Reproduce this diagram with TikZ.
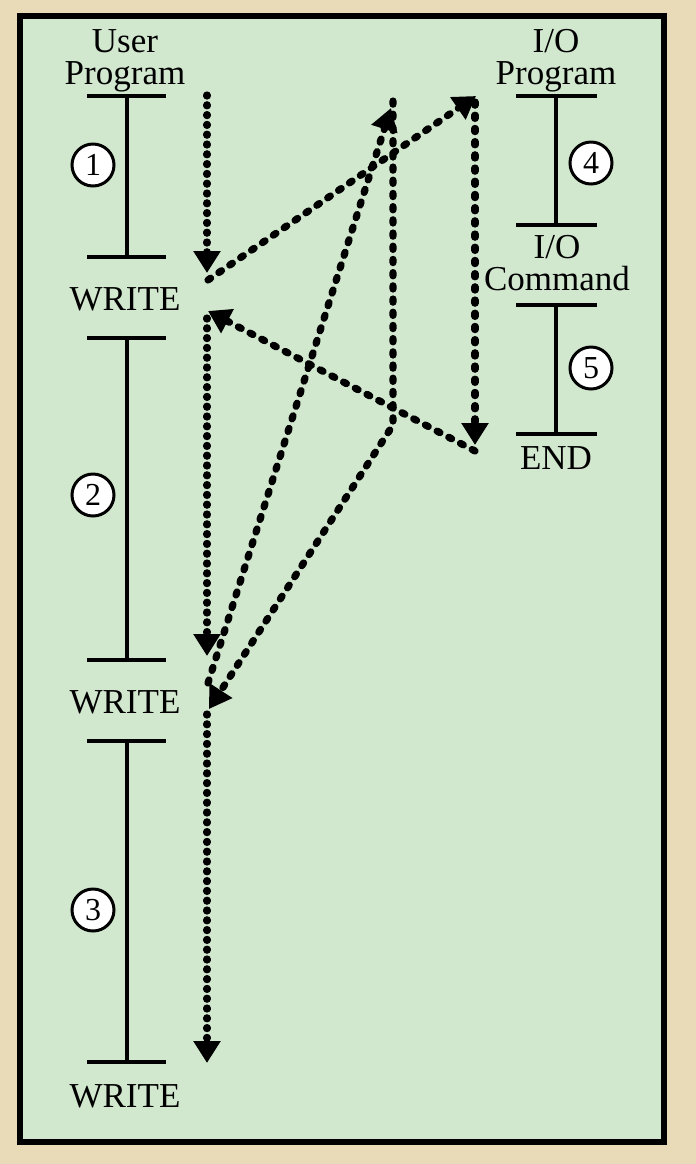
\documentclass[tikz,border=0pt]{standalone}
\usepackage{fontspec}
\setmainfont{Liberation Serif}
\usetikzlibrary{arrows.meta}

\definecolor{parch}{RGB}{233,219,184}
\definecolor{boxgreen}{RGB}{209,232,207}

\begin{document}
\begin{tikzpicture}[x=0.5pt,y=-0.5pt]

\tikzset{txt/.style={font=\fontsize{17.5}{16}\selectfont,inner sep=0pt,align=center},
stepnum/.style={draw=black,fill=white,line width=1.5pt,shape=circle,inner sep=0pt,minimum size=21pt,font=\fontsize{16}{16}\selectfont},
bar/.style={line width=1.6pt},
seqflow/.style={-{Triangle[length=11pt,width=13pt]},line width=3.6pt,line cap=round,dash pattern=on 0.5pt off 4.4pt},
jumpflow/.style={-{Triangle[length=11pt,width=13pt]},line width=3.6pt,line cap=round,line join=round,dash pattern=on 1.6pt off 5pt}}

% Background and frame
\fill[parch] (0,0) rectangle (696,1164);
\filldraw[fill=boxgreen,draw=black,line width=3pt] (20,15.5) rectangle (664,1142);

% User program
\node (user) [txt] at (125,61) {User\\Program};
\draw[bar] (87,96) -- (166,96);
\draw[bar] (127,96) -- (127,257);
\draw[bar] (87,257) -- (166,257);
\node (w1) [txt] at (125,299) {WRITE};
\draw[bar] (87,338) -- (166,338);
\draw[bar] (127,338) -- (127,660);
\draw[bar] (87,660) -- (166,660);
\node (w2) [txt] at (125,702) {WRITE};
\draw[bar] (87,741) -- (166,741);
\draw[bar] (127,741) -- (127,1062);
\draw[bar] (87,1062) -- (166,1062);
\node (w3) [txt] at (125,1096) {WRITE};

% I/O program
\node (io) [txt] at (556,61) {I/O\\Program};
\draw[bar] (516,96) -- (597,96);
\draw[bar] (556,96) -- (556,225);
\draw[bar] (516,225) -- (597,225);
\node (cmd) [txt] at (557,263) {I/O\\Command};
\draw[bar] (516,305) -- (597,305);
\draw[bar] (556,305) -- (556,434);
\draw[bar] (516,434) -- (597,434);
\node (end) [txt] at (556,458) {END};

% Segment numbers
\node (n1) [stepnum] at (93,165) {1};
\node (n2) [stepnum] at (93,495) {2};
\node (n3) [stepnum] at (93,910) {3};
\node (n4) [stepnum] at (591,163) {4};
\node (n5) [stepnum] at (591,368) {5};

% Points on the flow of control
\coordinate (u0) at (207,95);
\coordinate (u1) at (207,273);
\coordinate (u2) at (208,280);
\coordinate (u3) at (208,311);
\coordinate (u4) at (207,318);
\coordinate (u5) at (207,656);
\coordinate (u6) at (208,683);
\coordinate (u7) at (209,709);
\coordinate (u8) at (207,714);
\coordinate (u9) at (207,1063);
\coordinate (i0) at (476,96);
\coordinate (i1) at (475,102);
\coordinate (i2) at (475,445);
\coordinate (i3) at (475,451);
\coordinate (h0) at (393,101);
\coordinate (h1) at (393,425);
\coordinate (h2) at (391,108);

% Arrows along the user program
\draw[seqflow] (u0) -- (u1);
\draw[seqflow] (u4) -- (u5);
\draw[seqflow] (u8) -- (u9);

% Arrows to and from the I/O program
\draw[jumpflow] (u2) -- (i0);
\draw[jumpflow] (i1) -- (i2);
\draw[jumpflow] (i3) -- (u3);
\draw[jumpflow] (u6) -- (h2);
\draw[jumpflow] (h0) -- (h1) -- (u7);

\end{tikzpicture}
\end{document}
